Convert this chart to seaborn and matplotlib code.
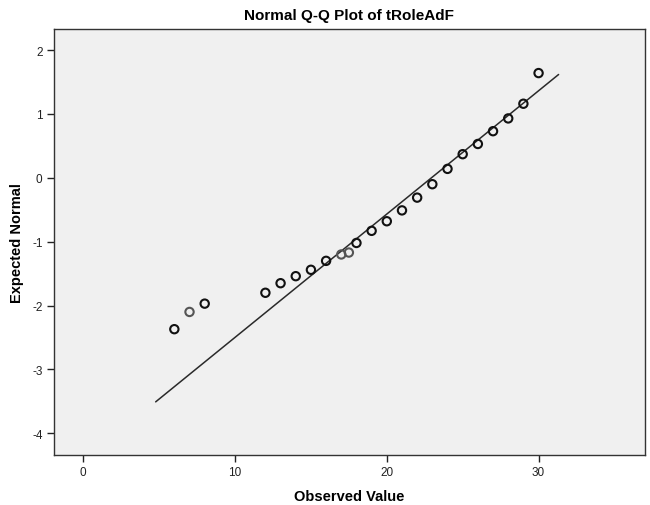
import matplotlib
matplotlib.use("Agg")
import matplotlib.pyplot as plt
import seaborn as sns
import numpy as np
import pandas as pd

# Observed values and their expected normal quantiles
observed = [6, 7, 8, 12, 13, 14, 15, 16, 17, 17.5, 18, 19, 20, 21, 22, 23,
            24, 25, 26, 27, 28, 29, 30]
expected = [-2.37, -2.10, -1.97, -1.80, -1.65, -1.54, -1.44, -1.30, -1.20,
            -1.17, -1.02, -0.83, -0.68, -0.51, -0.31, -0.10, 0.14, 0.37,
            0.53, 0.73, 0.93, 1.16, 1.64]
# Reference line of the fitted normal: mean and standard deviation
ref_mean = 22.94
ref_sd = 5.18
ref_x = [4.77, 31.32]

x_ticks = [0, 10, 20, 30]
y_ticks = [2, 1, 0, -1, -2, -3, -4]

sns.set_style("white")
plt.rcParams["font.family"] = ["Liberation Sans", "DejaVu Sans"]
plt.rcParams["axes.unicode_minus"] = False
plt.rcParams["text.color"] = "black"
plt.rcParams["axes.labelcolor"] = "black"

fig = plt.figure(figsize=(6.5, 5.06), dpi=100)
ax = fig.add_axes([0.0826, 0.0988, 0.992 - 0.0826, 0.9407 - 0.0988])
ax.set_facecolor("#f0f0f0")

line_df = pd.DataFrame({"x": ref_x,
                        "y": [(v - ref_mean) / ref_sd for v in ref_x]})
sns.lineplot(data=line_df, x="x", y="y", ax=ax, color="#2a2a2a",
             linewidth=1.1, zorder=2)

pts = pd.DataFrame({"x": observed, "y": expected})
edge = ["#555555" if v in (7, 17, 17.5) else "#111111" for v in observed]
ax.scatter(pts["x"], pts["y"], s=36, facecolors="none", edgecolors=edge,
           linewidths=1.5, zorder=3)

ax.set_xlim(-1.95, 37.0)
ax.set_ylim(-4.34, 2.33)
ax.set_xticks(x_ticks)
ax.set_yticks(y_ticks)
ax.tick_params(axis="both", which="major", direction="out", length=5,
               width=1, color="#222222", labelsize=8.5, labelcolor="#222222",
               left=True, bottom=True, pad=3)
for s in ax.spines.values():
    s.set_color("#333333")
    s.set_linewidth(1)

ax.set_xlabel("Observed Value", fontsize=10.5, fontweight="bold", labelpad=8)
ax.set_ylabel("Expected Normal", fontsize=10.5, fontweight="bold", labelpad=6)
ax.set_title("Normal Q-Q Plot of tRoleAdF", fontsize=11, fontweight="bold",
             pad=7)

fig.savefig("out.png", dpi=100, facecolor="white")
